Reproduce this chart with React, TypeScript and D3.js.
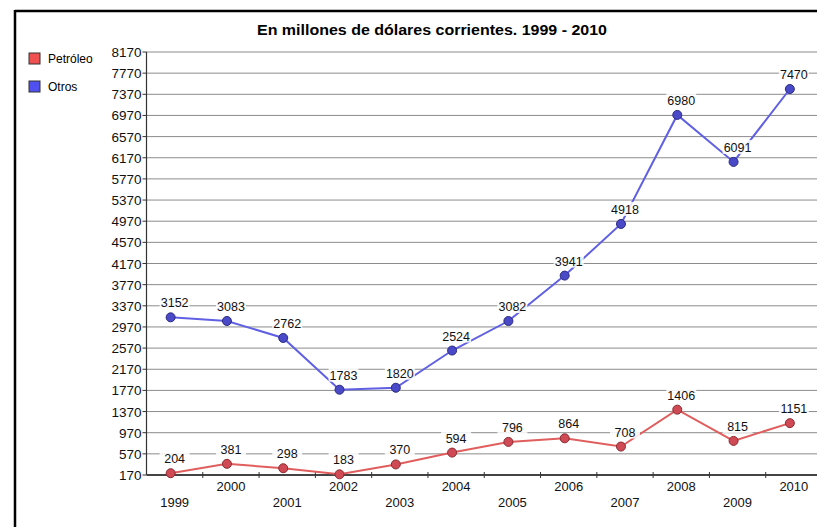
import React from "react";
import * as d3 from "d3";

const years = ["1999","2000","2001","2002","2003","2004","2005","2006","2007","2008","2009","2010"];
const petroleo = [204, 381, 298, 183, 370, 594, 796, 864, 708, 1406, 815, 1151];
const otros = [3152, 3083, 2762, 1783, 1820, 2524, 3082, 3941, 4918, 6980, 6091, 7470];
const yTicks = d3.range(170, 8171, 400);
const title = "En millones de dólares corrientes. 1999 - 2010";
const seriesNames = ["Petróleo", "Otros"];

const W = 817, H = 527;
const left = 146.5, right = 822, top = 52, bottom = 475;

export default function App() {
  const x = d3.scaleBand<string>().domain(years).range([left, right]).padding(0);
  const y = d3.scaleLinear().domain([170, 8170]).range([bottom, top]);
  const bw = x.bandwidth();
  const px = (yr: string) => (x(yr) as number) + bw / 2 - 4;
  const lx = (yr: string) => (x(yr) as number) + bw / 2;
  const line = d3.line<number>().x((_, i) => px(years[i])).y((d) => y(d));

  const series = [
    { name: seriesNames[0], data: petroleo, line: "#e05e5e", fill: "#d04a55", stroke: "#8a2a30" },
    { name: seriesNames[1], data: otros, line: "#6060e4", fill: "#4a4ac8", stroke: "#2a2a80" },
  ];
  const font = "'Liberation Sans', Arial, sans-serif";

  return (
    <div style={{ position: "absolute", left: 0, top: 0 }}>
      <svg width={W} height={H} style={{ display: "block", background: "#fff" }} fontFamily={font}>
        {/* frame */}
        <line x1={15} y1={11} x2={W} y2={11} stroke="#000" strokeWidth={2.5} />
        <line x1={15} y1={10} x2={15} y2={H} stroke="#000" strokeWidth={2.5} />
        {/* title */}
        <text x={257} y={35} fontSize={14} fontWeight="bold" fill="#000" textLength={350} lengthAdjust="spacingAndGlyphs">{title}</text>
        {/* legend */}
        {series.map((s, i) => (
          <g key={s.name} transform={`translate(29,${53 + i * 28})`}>
            <rect x={0} y={0} width={11} height={11} fill={i === 0 ? "#f05050" : "#5050f0"} stroke="#333" strokeWidth={1} />
            <text x={19} y={10} fontSize={12} fill="#000">{s.name}</text>
          </g>
        ))}
        {/* gridlines */}
        {yTicks.map((t) => (
          <g key={t}>
            {t !== 170 && <line x1={left} x2={W} y1={y(t)} y2={y(t)} stroke="#8c8c8c" strokeWidth={1} />}
            <line x1={left - 4} x2={left} y1={y(t)} y2={y(t)} stroke="#333" />
            <text x={left - 5} y={y(t) + 5} textAnchor="end" fontSize={13.5} fill="#111">{t}</text>
          </g>
        ))}
        {/* y axis */}
        <line x1={left} x2={left} y1={top} y2={bottom} stroke="#333" strokeWidth={1.2} />
        {/* x axis */}
        <line x1={left} x2={W} y1={bottom} y2={bottom} stroke="#444" strokeWidth={2} />
        {years.map((yr, i) => (
          <g key={yr}>
            {i > 0 && <line x1={x(yr) as number} x2={x(yr) as number} y1={bottom - 3} y2={bottom + 3} stroke="#333" />}
            <text x={lx(yr)} y={i % 2 === 0 ? 507 : 491} textAnchor="middle" fontSize={13} fill="#111">{yr}</text>
          </g>
        ))}
        {/* series */}
        {series.map((s) => (
          <g key={s.name}>
            <path d={line(s.data) as string} fill="none" stroke={s.line} strokeWidth={2} />
            {s.data.map((v, i) => (
              <circle key={i} cx={px(years[i])} cy={y(v)} r={4.5} fill={s.fill} stroke={s.stroke} strokeWidth={1} />
            ))}
            {s.data.map((v, i) => (
              <g key={"l" + i}>
                <rect x={lx(years[i]) - 15} y={y(v) - 22} width={30} height={14} fill="#fff" opacity={0.85} />
                <text x={lx(years[i])} y={y(v) - 10} textAnchor="middle" fontSize={12.5} fill="#111">{v}</text>
              </g>
            ))}
          </g>
        ))}
      </svg>
    </div>
  );
}
